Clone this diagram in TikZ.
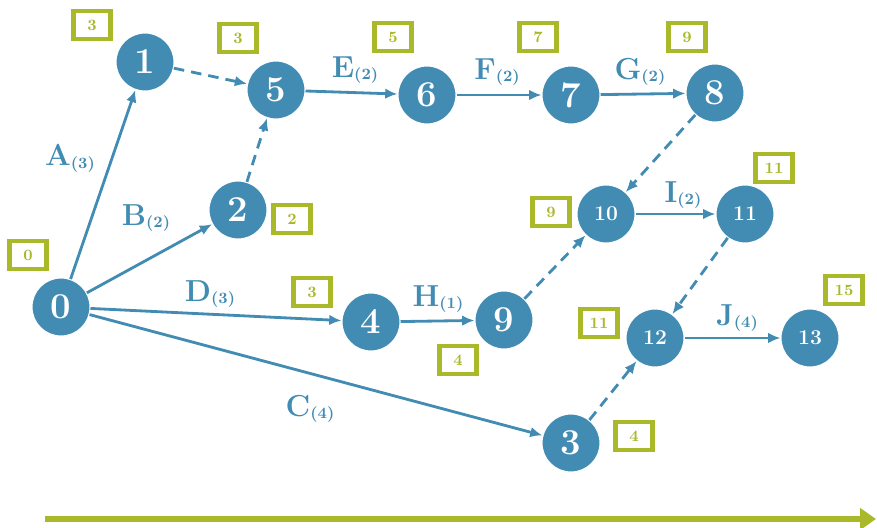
\documentclass[tikz,border=0pt]{standalone}
\usepackage{xcolor}
\usetikzlibrary{arrows.meta}
\definecolor{steel}{HTML}{428BB2}
\definecolor{moss}{HTML}{A9B92A}
\newcommand{\actlbl}[2]{#1\raisebox{-0.2ex}{\small(#2)}}

\begin{document}
\begin{tikzpicture}[
    x=0.02cm, y=-0.02cm,
    event/.style={circle, fill=steel, draw=white, line width=0.6pt,
                  minimum size=1.16cm, inner sep=0pt, text=white,
                  font=\bfseries\huge},
    small/.style={event, font=\bfseries\large},
    time/.style={rectangle, draw=moss, line width=2.4pt, fill=white,
                 minimum width=0.74cm, minimum height=0.56cm, inner sep=1pt,
                 text=moss, font=\bfseries\small},
    act/.style={-{Latex[length=7pt,width=6pt]}, steel, line width=1.6pt},
    dummy/.style={act, dash pattern=on 6pt off 4pt},
    lbl/.style={text=steel, font=\bfseries\LARGE, inner sep=2pt}
]
  \useasboundingbox (0,0) rectangle (877,528);

  % Events
  \node[event] (n0)  at (61,307)  {0};
  \node[event] (n1)  at (145,62)  {1};
  \node[event] (n2)  at (238,210) {2};
  \node[event] (n3)  at (571,443) {3};
  \node[event] (n4)  at (371,322) {4};
  \node[event] (n5)  at (276,90)  {5};
  \node[event] (n6)  at (427,95)  {6};
  \node[event] (n7)  at (571,95)  {7};
  \node[event] (n8)  at (715,93)  {8};
  \node[event] (n9)  at (504,320) {9};
  \node[small] (n10) at (606,214) {10};
  \node[small] (n11) at (745,214) {11};
  \node[small] (n12) at (655,338) {12};
  \node[small] (n13) at (810,338) {13};

  % Earliest times
  \node[time] (t0)  at (28,255)  {0};
  \node[time] (t1)  at (92,25)   {3};
  \node[time] (t2)  at (292,219) {2};
  \node[time] (t3)  at (634,436) {4};
  \node[time] (t4)  at (312,292) {3};
  \node[time] (t5)  at (238,38)  {3};
  \node[time] (t6)  at (393,37)  {5};
  \node[time] (t7)  at (538,37)  {7};
  \node[time] (t8)  at (687,37)  {9};
  \node[time] (t9)  at (458,360) {4};
  \node[time] (t10) at (551,212) {9};
  \node[time] (t11) at (774,168) {11};
  \node[time] (t12) at (599,323) {11};
  \node[time] (t13) at (844,290) {15};

  % Activities
  \draw[act] (n0) -- (n1);
  \draw[act] (n0) -- (n2);
  \draw[act] (n0) -- (n4);
  \draw[act] (n0) -- (n3);
  \draw[act] (n5) -- (n6);
  \draw[act] (n6) -- (n7);
  \draw[act] (n7) -- (n8);
  \draw[act] (n4) -- (n9);
  \draw[act] (n10) -- (n11);
  \draw[act] (n12) -- (n13);

  % Dummy activities
  \draw[dummy] (n1) -- (n5);
  \draw[dummy] (n2) -- (n5);
  \draw[dummy] (n8) -- (n10);
  \draw[dummy] (n9) -- (n10);
  \draw[dummy] (n11) -- (n12);
  \draw[dummy] (n3) -- (n12);

  % Activity labels
  \node[lbl] (lA) at (70,158)  {\actlbl{A}{3}};
  \node[lbl] (lB) at (146,218) {\actlbl{B}{2}};
  \node[lbl] (lC) at (310,409) {\actlbl{C}{4}};
  \node[lbl] (lD) at (210,294) {\actlbl{D}{3}};
  \node[lbl] (lE) at (355,70)  {\actlbl{E}{2}};
  \node[lbl] (lF) at (497,72)  {\actlbl{F}{2}};
  \node[lbl] (lG) at (640,72)  {\actlbl{G}{2}};
  \node[lbl] (lH) at (438,299) {\actlbl{H}{1}};
  \node[lbl] (lI) at (683,195) {\actlbl{I}{2}};
  \node[lbl] (lJ) at (737,318) {\actlbl{J}{4}};

  % Time axis
  \coordinate (ax0) at (45,519);
  \coordinate (ax1) at (876,519);
  \draw[-{Triangle[length=9pt,width=12pt]}, moss, line width=3.6pt] (ax0) -- (ax1);
\end{tikzpicture}
\end{document}
